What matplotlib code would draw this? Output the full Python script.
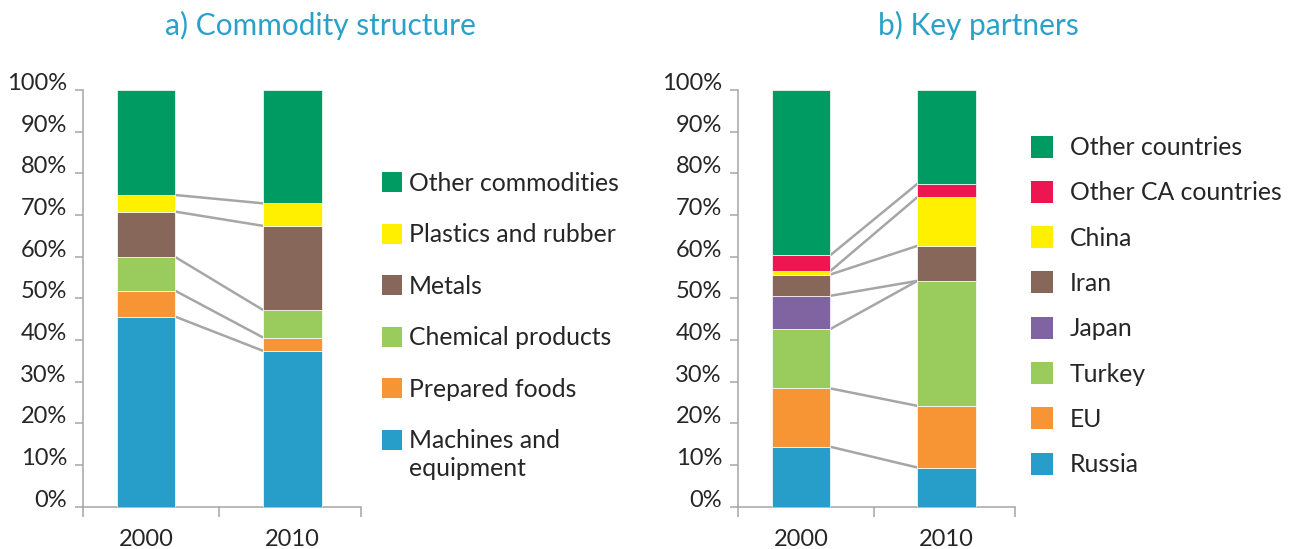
import matplotlib
matplotlib.use("Agg")
import matplotlib.pyplot as plt
import numpy as np
from matplotlib.patches import Rectangle
from matplotlib.ticker import FixedLocator

# ---------------- data ----------------
years = ["2000", "2010"]

commodity_labels = ["Machines and\nequipment", "Prepared foods", "Chemical products",
                    "Metals", "Plastics and rubber", "Other commodities"]
comm_2000 = [45.6, 6.2, 8.1, 10.9, 4.0, 25.2]
comm_2010 = [37.4, 3.2, 6.6, 20.2, 5.4, 27.2]
commodity_colors = ["#269ec9", "#f79433", "#99cc5c", "#87675a", "#fff000", "#009a63"]

partner_labels = ["Russia", "EU", "Turkey", "Japan", "Iran", "China",
                  "Other CA countries", "Other countries"]
part_2000 = [14.4, 14.0, 14.2, 8.0, 5.1, 0.8, 3.8, 39.7]
part_2010 = [9.4, 14.8, 30.0, 0.0, 8.4, 11.7, 3.2, 22.5]
partner_colors = ["#269ec9", "#f79433", "#99cc5c", "#8064a2", "#87675a", "#fff000",
                  "#ed1651", "#009a63"]

ytick_vals = list(range(0, 101, 10))
ytick_labels = [f"{v}%" for v in ytick_vals]

titles = ["a) Commodity structure", "b) Key partners"]

# ---------------- style ----------------
W, H = 1299, 549
DPI = 100
FONT = "Lato"
plt.rcParams["font.family"] = [FONT, "DejaVu Sans"]
TXT = "#262626"
GRAY_AX = "#a6a6a6"
GRAY_LINE = "#a6a6a6"
TITLE_C = "#2aa1c9"
FS = 17
FS_LEG = 17.8

fig = plt.figure(figsize=(W / DPI, H / DPI), dpi=DPI)


def fx(px):
    return px / W


def fy(py):
    return 1 - py / H


def make_axes(x0, x1, y_bottom, y_top):
    return fig.add_axes([fx(x0), fy(y_bottom), fx(x1) - fx(x0), (y_bottom - y_top) / H])


XL, XR = -0.43, 1.47
BW = 0.40


def draw_panel(ax, v2000, v2010, colors):
    data = np.array([v2000, v2010], dtype=float)  # shape (2, n)
    x = np.arange(len(years))
    bottoms = np.zeros(len(years))
    for i in range(data.shape[1]):
        ax.bar(x, data[:, i], BW, bottom=bottoms, color=colors[i],
               edgecolor="white", linewidth=0.5, zorder=3)
        bottoms = bottoms + data[:, i]
    cum = np.cumsum(data, axis=1)
    for i in range(data.shape[1] - 1):
        ax.plot([x[0] + BW / 2, x[1] - BW / 2], [cum[0, i], cum[1, i]],
                color=GRAY_LINE, lw=1.8, zorder=2, solid_capstyle="butt")
    ax.set_xlim(XL, XR)
    ax.set_ylim(0, 100)
    ax.set_yticks(ytick_vals)
    ax.set_yticklabels(ytick_labels, fontsize=FS, color=TXT, va="baseline")
    ax.set_xticks(x)
    ax.set_xticklabels(years, fontsize=FS, color=TXT)
    ax.xaxis.set_minor_locator(FixedLocator([XL, 0.5, XR]))
    ax.tick_params(axis="x", which="major", length=0, pad=16)
    ax.tick_params(axis="x", which="minor", length=7.2, width=1.1, color=GRAY_AX, direction="out")
    ax.tick_params(axis="y", which="major", length=5.8, width=1.1, color=GRAY_AX, pad=6)
    for s in ["top", "right"]:
        ax.spines[s].set_visible(False)
    for s in ["left", "bottom"]:
        ax.spines[s].set_color(GRAY_AX)
        ax.spines[s].set_linewidth(1.1)


ax1 = make_axes(83.3, 361, 506.7, 90)
draw_panel(ax1, comm_2000, comm_2010, commodity_colors)

ax2 = make_axes(738.3, 1015, 506.7, 90)
draw_panel(ax2, part_2000, part_2010, partner_colors)

# titles
fig.text(fx(320), fy(25), titles[0], fontsize=21.5, color=TITLE_C, ha="center", va="center")
fig.text(fx(978), fy(25), titles[1], fontsize=21.5, color=TITLE_C, ha="center", va="center")


# manual legends (top entry = last series)
def draw_legend(labels, colors, sq_x, sq_size, text_x, y_first, spacing, cap=17, line_gap=28):
    for k, (lab, col) in enumerate(zip(labels[::-1], colors[::-1])):
        yc = y_first + k * spacing
        fig.patches.append(Rectangle((fx(sq_x), fy(yc + sq_size / 2)), sq_size / W, sq_size / H,
                                     transform=fig.transFigure, facecolor=col,
                                     edgecolor="none", figure=fig))
        for j, line in enumerate(lab.split("\n")):
            fig.text(fx(text_x), fy(yc + cap / 2 + j * line_gap), line, fontsize=FS_LEG,
                     color=TXT, ha="left", va="baseline")


draw_legend(commodity_labels, commodity_colors, 381.7, 20, 409, 182, 51.6)
draw_legend(partner_labels, partner_colors, 1031, 22, 1070, 146.5, 45.3)

fig.savefig("out.png", dpi=DPI)
